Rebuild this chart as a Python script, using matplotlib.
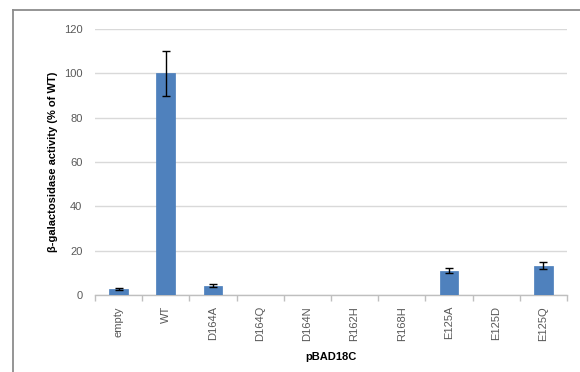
import matplotlib
matplotlib.use("Agg")
import matplotlib.pyplot as plt
from matplotlib.lines import Line2D

categories = ["empty", "WT", "D164A", "D164Q", "D164N", "R162H", "R168H", "E125A", "E125D", "E125Q"]
values = [2.6, 100, 4.2, 0, 0, 0, 0, 11.0, 0, 13.2]
errors = [0.4, 10, 0.6, 0, 0, 0, 0, 1.3, 0, 1.5]
yticks = [0, 20, 40, 60, 80, 100, 120]

plt.rcParams['font.family'] = ['Liberation Sans', 'DejaVu Sans']

fig = plt.figure(figsize=(5.8, 3.72), dpi=100)
W, H = 580, 372
ax = fig.add_axes([95 / W, 1 - 295 / H, (567 - 95) / W, (295 - 29) / H])

x = list(range(len(categories)))
err = [e if e > 0 else float('nan') for e in errors]
ax.bar(x, values, width=0.4, color="#4F81BD", edgecolor="#4A7EBB", linewidth=0.5, zorder=3)
ax.errorbar(x, values, yerr=err, fmt='none', ecolor='black', elinewidth=1, capsize=3, capthick=1, zorder=4)

ax.set_xlim(-0.5, len(categories) - 0.5)
ax.set_ylim(0, 120)
ax.set_yticks(yticks)
ax.set_yticklabels([str(t) for t in yticks], color="#595959", fontsize=8)
ax.tick_params(axis='y', length=0, pad=9)
ax.yaxis.grid(True, color="#D9D9D9", linewidth=1, zorder=0)

ax.set_xticks(x)
ax.set_xticklabels(categories, rotation=90, color="#595959", fontsize=8)
ax.tick_params(axis='x', which='major', length=0, pad=8)
ax.set_xticks([i - 0.5 for i in range(len(categories) + 1)], minor=True)
ax.tick_params(axis='x', which='minor', length=4, color="#BFBFBF", width=1)

for s in ['top', 'right', 'left']:
    ax.spines[s].set_visible(False)
ax.spines['bottom'].set_color("#BFBFBF")
ax.spines['bottom'].set_linewidth(1)

ax.set_ylabel("β-galactosidase activity (% of WT)", fontsize=8, fontweight='bold', labelpad=4)
ax.set_xlabel("pBAD18C", fontsize=8, fontweight='bold', labelpad=8)

# outer chart border (partially visible)
fig.add_artist(Line2D([12.5 / W, 1.0], [1 - 9.5 / H, 1 - 9.5 / H], transform=fig.transFigure, color="#8C8C8C", linewidth=1.3))
fig.add_artist(Line2D([12.5 / W, 12.5 / W], [0, 1 - 9.5 / H], transform=fig.transFigure, color="#8C8C8C", linewidth=1.3))

fig.savefig("out.png", dpi=100)
